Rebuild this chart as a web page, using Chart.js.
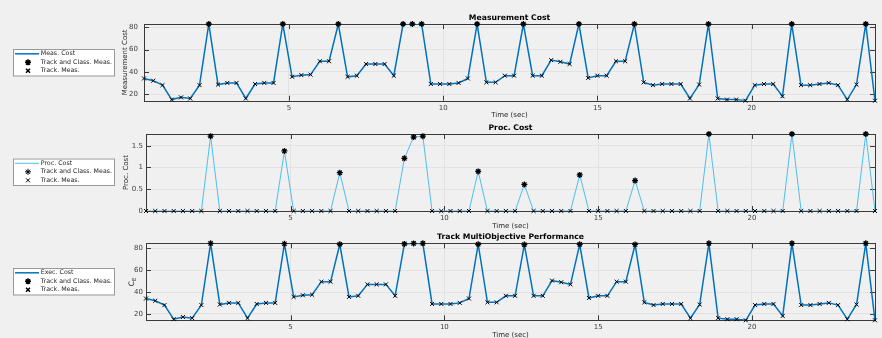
<!DOCTYPE html>
<html>
<head>
<meta charset="utf-8">
<script src="https://cdn.jsdelivr.net/npm/chart.js"></script>
<style>
  html, body { margin: 0; padding: 0; background: #f0f0f0; overflow: hidden; }
  #wrap { position: relative; width: 882px; height: 338px; overflow: hidden; }
  canvas { position: absolute; left: 0; top: 0; }
</style>
</head>
<body>
<div id="wrap">
  <canvas id="measChart" width="882" height="360"></canvas>
  <canvas id="procChart" width="882" height="360"></canvas>
  <canvas id="execChart" width="882" height="360"></canvas>
</div>
<script>
// time of each step (sec)
const times = [
  0.3, 0.6, 0.9, 1.2, 1.5, 1.8, 2.1, 2.4, 2.7, 3.0,
  3.3, 3.6, 3.9, 4.2, 4.5, 4.8, 5.1, 5.4, 5.7, 6.0,
  6.3, 6.6, 6.9, 7.2, 7.5, 7.8, 8.1, 8.4, 8.7, 9.0,
  9.3, 9.6, 9.9, 10.2, 10.5, 10.8, 11.1, 11.4, 11.7, 12.0,
  12.3, 12.6, 12.9, 13.2, 13.5, 13.8, 14.1, 14.4, 14.7, 15.0,
  15.3, 15.6, 15.9, 16.2, 16.5, 16.8, 17.1, 17.4, 17.7, 18.0,
  18.3, 18.6, 18.9, 19.2, 19.5, 19.8, 20.1, 20.4, 20.7, 21.0,
  21.3, 21.6, 21.9, 22.2, 22.5, 22.8, 23.1, 23.4, 23.7, 24.0
];

const measCost = [
  34, 32, 28, 15, 17, 16, 28, 83, 28.5, 30,
  30, 16, 29, 30, 30, 83, 35.5, 37, 37.5, 49.5,
  49.5, 83, 35.5, 36.5, 47, 47, 47, 36.5, 83, 83,
  83, 29, 29, 29, 30, 34, 83, 30.5, 30.5, 36.5,
  36.5, 83, 36.5, 36.5, 50.5, 49, 47, 83, 34.5, 36.5,
  36.5, 49.5, 49.5, 83, 30.5, 28, 29, 29, 29, 16,
  28.5, 83, 16, 15, 15, 14, 28, 29, 29, 18,
  83, 28, 28, 29, 30, 28, 15, 28.5, 83, 14
];

const procCost = [
  0, 0, 0, 0, 0, 0, 0, 1.72, 0, 0,
  0, 0, 0, 0, 0, 1.38, 0, 0, 0, 0,
  0, 0.88, 0, 0, 0, 0, 0, 0, 1.21, 1.70,
  1.72, 0, 0, 0, 0, 0, 0.91, 0, 0, 0,
  0, 0.61, 0, 0, 0, 0, 0, 0.83, 0, 0,
  0, 0, 0, 0.70, 0, 0, 0, 0, 0, 0,
  0, 1.77, 0, 0, 0, 0, 0, 0, 0, 0,
  1.77, 0, 0, 0, 0, 0, 0, 0, 1.77, 0
];

const execCost = [
  34, 32, 28, 15, 17, 16, 28, 84.72, 28.5, 30,
  30, 16, 29, 30, 30, 84.38, 35.5, 37, 37.5, 49.5,
  49.5, 83.88, 35.5, 36.5, 47, 47, 47, 36.5, 84.21, 84.7,
  84.72, 29, 29, 29, 30, 34, 83.91, 30.5, 30.5, 36.5,
  36.5, 83.61, 36.5, 36.5, 50.5, 49, 47, 83.83, 34.5, 36.5,
  36.5, 49.5, 49.5, 83.7, 30.5, 28, 29, 29, 29, 16,
  28.5, 84.77, 16, 15, 15, 14, 28, 29, 29, 18,
  84.77, 28, 28, 29, 30, 28, 15, 28.5, 84.77, 14
];

// steps where track and class measurement was taken
const classIdx = [7, 15, 21, 28, 29, 30, 36, 41, 47, 53, 61, 70, 78];

const timeTicks = [5, 10, 15, 20];
const costTicks = [20, 40, 60, 80];
const procTicks = [0, 0.5, 1, 1.5];

Chart.defaults.font.family = '"DejaVu Sans", sans-serif';
Chart.defaults.color = '#404040';

// box round the axes with small inward tick marks
const frameTicks = {
  id: 'frameTicks',
  beforeDatasetsDraw(chart, args, opts) {
    const ctx = chart.ctx;
    const a = chart.chartArea;
    const len = opts.len;
    ctx.save();
    ctx.strokeStyle = '#3a3a3a';
    ctx.lineWidth = 1;
    ctx.beginPath();
    chart.scales.x.ticks.forEach(t => {
      const px = Math.round(chart.scales.x.getPixelForValue(t.value)) + 0.5;
      ctx.moveTo(px, a.bottom); ctx.lineTo(px, a.bottom - len);
      ctx.moveTo(px, a.top); ctx.lineTo(px, a.top + len);
    });
    chart.scales.y.ticks.forEach(t => {
      const py = Math.round(chart.scales.y.getPixelForValue(t.value)) + 0.5;
      ctx.moveTo(a.left, py); ctx.lineTo(a.left + len, py);
      ctx.moveTo(a.right, py); ctx.lineTo(a.right - len, py);
    });
    ctx.stroke();
    ctx.strokeRect(Math.round(a.left) + 0.5, Math.round(a.top) + 0.5,
      Math.round(a.right - a.left), Math.round(a.bottom - a.top));
    ctx.restore();
  }
};

// legend in a box to the left of the axes
const boxLegend = {
  id: 'boxLegend',
  afterDraw(chart, args, opts) {
    const ctx = chart.ctx;
    ctx.save();
    ctx.fillStyle = '#ffffff';
    ctx.fillRect(opts.x, opts.y, opts.w, opts.h);
    ctx.strokeStyle = '#9a9a9a';
    ctx.lineWidth = 1;
    ctx.strokeRect(opts.x + 0.5, opts.y + 0.5, opts.w, opts.h);
    ctx.font = '6.3px "DejaVu Sans"';
    ctx.textBaseline = 'middle';
    chart.data.datasets.forEach((ds, i) => {
      const y = opts.y + 4.8 + i * 8.5;
      if (ds.pointRadius === 0) {
        ctx.strokeStyle = ds.borderColor;
        ctx.lineWidth = ds.borderWidth;
        ctx.beginPath();
        ctx.moveTo(opts.x + 2, y);
        ctx.lineTo(opts.x + 26, y);
        ctx.stroke();
      } else {
        ctx.strokeStyle = ds.borderColor;
        ctx.fillStyle = ds.borderColor;
        Chart.helpers.drawPoint(ctx, {
          pointStyle: ds.pointStyle,
          radius: ds.pointRadius,
          borderWidth: ds.borderWidth,
          rotation: 0
        }, opts.x + 15, y);
      }
      ctx.fillStyle = '#262626';
      ctx.fillText(ds.label, opts.x + 27.7, y);
    });
    ctx.restore();
  }
};

// y label with a subscript (C_E)
const subscriptTitle = {
  id: 'subscriptTitle',
  afterDraw(chart, args, opts) {
    if (!opts.text) return;
    const ctx = chart.ctx;
    const a = chart.chartArea;
    ctx.save();
    ctx.translate(opts.x, (a.top + a.bottom) / 2);
    ctx.rotate(-Math.PI / 2);
    ctx.fillStyle = '#262626';
    ctx.textBaseline = 'middle';
    ctx.font = '7.5px "DejaVu Sans"';
    const w1 = ctx.measureText(opts.text).width;
    ctx.font = '5.5px "DejaVu Sans"';
    const w2 = ctx.measureText(opts.sub).width;
    const start = -(w1 + w2) / 2;
    ctx.font = '7.5px "DejaVu Sans"';
    ctx.fillText(opts.text, start, 0);
    ctx.font = '5.5px "DejaVu Sans"';
    ctx.fillText(opts.sub, start + w1, 2.5);
    ctx.restore();
  }
};

function buildDatasets(values, label, lineColor, lineWidth) {
  const allPts = times.map((t, i) => ({ x: t, y: values[i] }));
  return [
    {
      label: label,
      data: allPts,
      borderColor: lineColor,
      borderWidth: lineWidth,
      pointRadius: 0,
      tension: 0,
      order: 2
    },
    {
      label: 'Track and Class. Meas.',
      data: allPts.filter((p, i) => classIdx.includes(i)),
      showLine: false,
      pointStyle: 'star',
      pointRadius: 3,
      borderColor: '#000000',
      backgroundColor: '#000000',
      borderWidth: 1.3,
      clip: false,
      order: 0
    },
    {
      label: 'Track. Meas.',
      data: allPts.filter((p, i) => !classIdx.includes(i)),
      showLine: false,
      pointStyle: 'crossRot',
      pointRadius: 2.8,
      borderColor: '#000000',
      borderWidth: 1,
      clip: false,
      order: 1
    }
  ];
}

function drawPanel(id, p) {
  const ctx = document.getElementById(id).getContext('2d');
  return new Chart(ctx, {
    type: 'line',
    data: { datasets: buildDatasets(p.values, p.label, p.lineColor, p.lineWidth) },
    options: {
      responsive: false,
      animation: false,
      devicePixelRatio: 1,
      layout: { padding: p.padding },
      plugins: {
        legend: { display: false },
        tooltip: { enabled: false },
        title: {
          display: true,
          text: p.title,
          fullSize: false,
          color: '#000000',
          font: { size: 7.7, weight: 'bold' },
          padding: { top: 0, bottom: 1.7 }
        },
        frameTicks: { len: 5 },
        boxLegend: { x: 13, y: p.legendY, w: 101, h: 26.5 },
        subscriptTitle: p.subTitle || {}
      },
      scales: {
        x: {
          type: 'linear',
          min: 0.3,
          max: 24.0,
          afterBuildTicks: s => { s.ticks = timeTicks.map(v => ({ value: v })); },
          afterFit: s => { s.height = 20; },
          grid: { color: '#e2e2e2', drawTicks: false },
          border: { display: false },
          ticks: { padding: 3, font: { size: 7 }, callback: v => String(v) },
          title: {
            display: true,
            text: 'Time (sec)',
            color: '#262626',
            font: { size: 7 },
            padding: { top: 0, bottom: 1 }
          }
        },
        y: {
          min: p.yMin,
          max: p.yMax,
          afterBuildTicks: s => { s.ticks = p.yTicks.map(v => ({ value: v })); },
          afterFit: s => { s.width = p.yWidth; },
          grid: { color: '#e2e2e2', drawTicks: false },
          border: { display: false },
          ticks: { padding: p.yPad, font: { size: 7 }, callback: v => String(v) },
          title: {
            display: !!p.yTitle,
            text: p.yTitle,
            color: '#262626',
            font: { size: 7 },
            padding: { top: 0, bottom: 0 }
          }
        }
      }
    },
    plugins: [frameTicks, boxLegend, subscriptTitle]
  });
}

drawPanel('measChart', {
  values: measCost,
  label: 'Meas. Cost',
  lineColor: '#0072BD',
  lineWidth: 1.5,
  title: 'Measurement Cost',
  yTitle: 'Measurement Cost',
  yMin: 14,
  yMax: 83,
  yTicks: costTicks,
  yWidth: 23.2,
  yPad: 6,
  padding: { left: 120.8, right: 7, top: 13.06, bottom: 239.3 },
  legendY: 49
});

drawPanel('procChart', {
  values: procCost,
  label: 'Proc. Cost',
  lineColor: '#4DBEEE',
  lineWidth: 1,
  title: 'Proc. Cost',
  yTitle: 'Proc. Cost',
  yMin: 0,
  yMax: 1.77,
  yTicks: procTicks,
  yWidth: 24.2,
  yPad: 3,
  padding: { left: 121.8, right: 7, top: 123.06, bottom: 129 },
  legendY: 158.5
});

drawPanel('execChart', {
  values: execCost,
  label: 'Exec. Cost',
  lineColor: '#0072BD',
  lineWidth: 1.5,
  title: 'Track MultiObjective Performance',
  yTitle: '',
  subTitle: { text: 'C', sub: 'E', x: 132 },
  yMin: 14,
  yMax: 84.77,
  yTicks: costTicks,
  yWidth: 24.2,
  yPad: 3,
  padding: { left: 121.8, right: 7, top: 232.36, bottom: 19.7 },
  legendY: 268
});
</script>
</body>
</html>
